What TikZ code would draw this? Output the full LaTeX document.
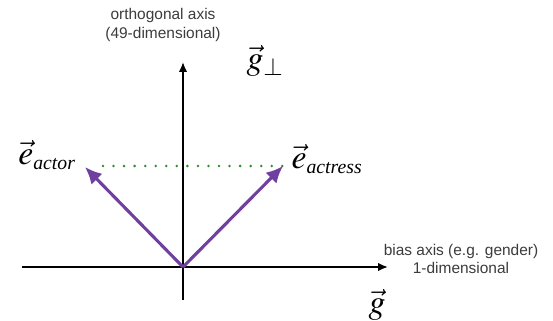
\documentclass[tikz,border=0pt]{standalone}
\usepackage{mathptmx}
\usepackage{fontspec}
\setmainfont{Liberation Serif}
\setsansfont{Liberation Sans}
\usetikzlibrary{arrows.meta}

\definecolor{vecpurple}{RGB}{112,64,160}
\definecolor{dotgreen}{RGB}{50,140,50}
\definecolor{axisgray}{RGB}{60,60,60}

\newcommand*{\xmin}{-4.025}
\newcommand*{\xmax}{5.125}
\newcommand*{\ymin}{-0.825}
\newcommand*{\ymax}{5.125}
\newcommand*{\subword}[1]{\hbox{\fontsize{14}{16}\selectfont\itshape #1}}

\begin{document}
\begin{tikzpicture}
[
	x=40pt/1.40625, y=40pt/1.40625,
	axislabel/.style={font=\sffamily\fontsize{11}{13}\selectfont,text=axisgray,align=center},
	veclabel/.style={font=\fontsize{24}{26}\selectfont},
	embvec/.style={vecpurple,line width=2.2pt,-{Latex[length=12pt,width=11pt]}},
	axisline/.style={line width=1.3pt,-{Latex[length=7pt,width=6pt]}}
]
	\useasboundingbox (-4.575,-1.325) rectangle (9.25,6.675);

	\coordinate (o) at (0,0);
	\coordinate (xl) at (\xmin,0);
	\coordinate (xr) at (\xmax,0);
	\coordinate (yb) at (0,\ymin);
	\coordinate (yt) at (0,\ymax);
	\coordinate (actor) at (-2.45,2.5);
	\coordinate (actress) at (2.5,2.525);
	\coordinate (dotstart) at (-2.0,2.525);

	% axes
	\draw[axisline] (xl) -- (xr);
	\draw[axisline] (yb) -- (yt);

	\node[axislabel] (ortho) at (-0.5,6.05) {orthogonal axis\\(49-dimensional)};
	\node[axislabel] (bias) at (6.95,0.2) {bias axis (e.g. gender)\\1-dimensional};
	\node[veclabel] (gperp) at (2.05,5.15) {$\vec{g}_{\perp}$};
	\node[veclabel] (g) at (4.85,-0.95) {$\vec{g}$};

	% embeddings
	\draw[dotgreen,line width=2pt,line cap=round,dash pattern=on 0pt off 7.5pt] (dotstart) -- (actress);
	\draw[embvec] (o) -- (actor);
	\draw[embvec] (o) -- (actress);

	\node[veclabel] (eactor) at (-3.4,2.8) {$\vec{e}_{\subword{actor}}$};
	\node[veclabel] (eactress) at (3.6,2.7) {$\vec{e}_{\subword{actress}}$};

\end{tikzpicture}
\end{document}
